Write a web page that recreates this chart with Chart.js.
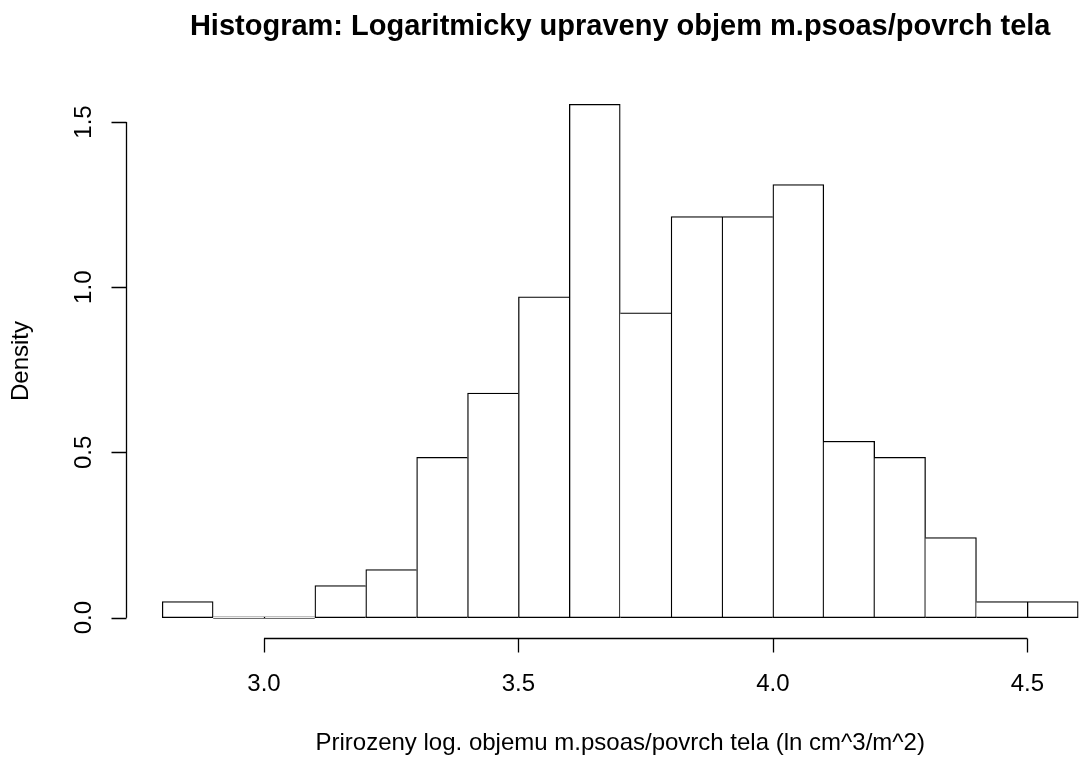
<!DOCTYPE html>
<html>
<head>
<meta charset="utf-8">
<script src="https://cdn.jsdelivr.net/npm/chart.js@4.4.1/dist/chart.umd.min.js"></script>
<style>
  html, body { margin: 0; padding: 0; background: #fff; }
  canvas { display: block; }
</style>
</head>
<body>
<canvas id="hist" width="1081" height="762"></canvas>
<script>
'use strict';

/* Data */
const binMids = [2.85, 2.95, 3.05, 3.15, 3.25, 3.35, 3.45, 3.55, 3.65,
                 3.75, 3.85, 3.95, 4.05, 4.15, 4.25, 4.35, 4.45, 4.55];
const densities = [0.0485, 0, 0, 0.0971, 0.1456, 0.4854, 0.6796, 0.9709, 1.5534,
                   0.9223, 1.2136, 1.2136, 1.3107, 0.5340, 0.4854, 0.2427, 0.0485, 0.0485];
const xTickValues = [3.0, 3.5, 4.0, 4.5];
const yTickValues = [0.0, 0.5, 1.0, 1.5];

const TITLE  = 'Histogram: Logaritmicky upraveny objem m.psoas/povrch tela';
const XLABEL = 'Prirozeny log. objemu m.psoas/povrch tela (ln cm^3/m^2)';
const YLABEL = 'Density';

const FONT = "'Liberation Sans', Arial, sans-serif";
const LW = 1.3;

/* R-like axes and labels, drawn from the chart's own scales */
const rAxes = {
  id: 'rAxes',
  afterDraw(chart) {
    const { ctx, chartArea, scales: { x, y } } = chart;
    ctx.save();
    ctx.strokeStyle = '#000';
    ctx.fillStyle = '#000';
    ctx.lineWidth = LW;

    /* x axis */
    const xa = Math.round(chartArea.bottom) + 0.5;
    const x0 = x.getPixelForValue(xTickValues[0]);
    const x1 = x.getPixelForValue(xTickValues[xTickValues.length - 1]);
    ctx.beginPath();
    ctx.moveTo(x0, xa); ctx.lineTo(x1, xa);
    xTickValues.forEach(v => {
      const px = Math.round(x.getPixelForValue(v)) + 0.5;
      ctx.moveTo(px, xa); ctx.lineTo(px, xa + 14);
    });
    ctx.stroke();
    ctx.font = `24px ${FONT}`;
    ctx.textAlign = 'center';
    ctx.textBaseline = 'alphabetic';
    xTickValues.forEach(v => {
      ctx.fillText(v.toFixed(1), x.getPixelForValue(v), 691);
    });

    /* y axis */
    const ya = Math.round(chartArea.left) + 0.5;
    const y0 = y.getPixelForValue(yTickValues[0]);
    const y1 = y.getPixelForValue(yTickValues[yTickValues.length - 1]);
    ctx.beginPath();
    ctx.moveTo(ya, y0); ctx.lineTo(ya, y1);
    yTickValues.forEach(v => {
      const py = Math.round(y.getPixelForValue(v)) + 0.5;
      ctx.moveTo(ya, py); ctx.lineTo(ya - 15, py);
    });
    ctx.stroke();
    yTickValues.forEach(v => {
      ctx.save();
      ctx.translate(91, y.getPixelForValue(v));
      ctx.rotate(-Math.PI / 2);
      ctx.fillText(v.toFixed(1), 0, 0);
      ctx.restore();
    });

    /* titles */
    const cx = (chartArea.left + 1114.8) / 2;
    ctx.fillText(XLABEL, cx, 750);
    ctx.save();
    ctx.translate(28, (chartArea.top + chartArea.bottom) / 2);
    ctx.rotate(-Math.PI / 2);
    ctx.fillText(YLABEL, 0, 0);
    ctx.restore();
    ctx.font = `bold 29px ${FONT}`;
    ctx.fillText(TITLE, cx, 35);
    ctx.restore();
  },
};

/* Shared edges drawn once, by the taller neighbour */
const edgeLeft = i => (i === 0 || densities[i - 1] <= densities[i] ? LW : 0);
const edgeRight = i => (i === densities.length - 1 || densities[i + 1] < densities[i] ? LW : 0);

new Chart(document.getElementById('hist'), {
  type: 'bar',
  data: {
    datasets: [{
      data: binMids.map((m, i) => ({ x: m, y: densities[i] })),
      backgroundColor: '#ffffff',
      borderColor: '#000000',
      borderSkipped: false,
      borderWidth: ctx => ({ left: edgeLeft(ctx.dataIndex), top: LW, bottom: LW, right: edgeRight(ctx.dataIndex) }),
      barPercentage: 1,
      categoryPercentage: 1,
      minBarLength: 1.6,
    }],
  },
  options: {
    responsive: false,
    animation: false,
    events: [],
    layout: { padding: { left: 125.6, right: 0, top: 83.8, bottom: 123.8 } },
    plugins: { legend: { display: false }, tooltip: { enabled: false }, title: { display: false } },
    scales: {
      x: {
        type: 'linear',
        display: false,
        offset: false,
        min: 2.728,
        max: 4.6055,
      },
      y: {
        type: 'linear',
        display: false,
        beginAtZero: false,
        min: -0.0621,
        max: 1.6155,
      },
    },
  },
  plugins: [rAxes],
});
</script>
</body>
</html>
